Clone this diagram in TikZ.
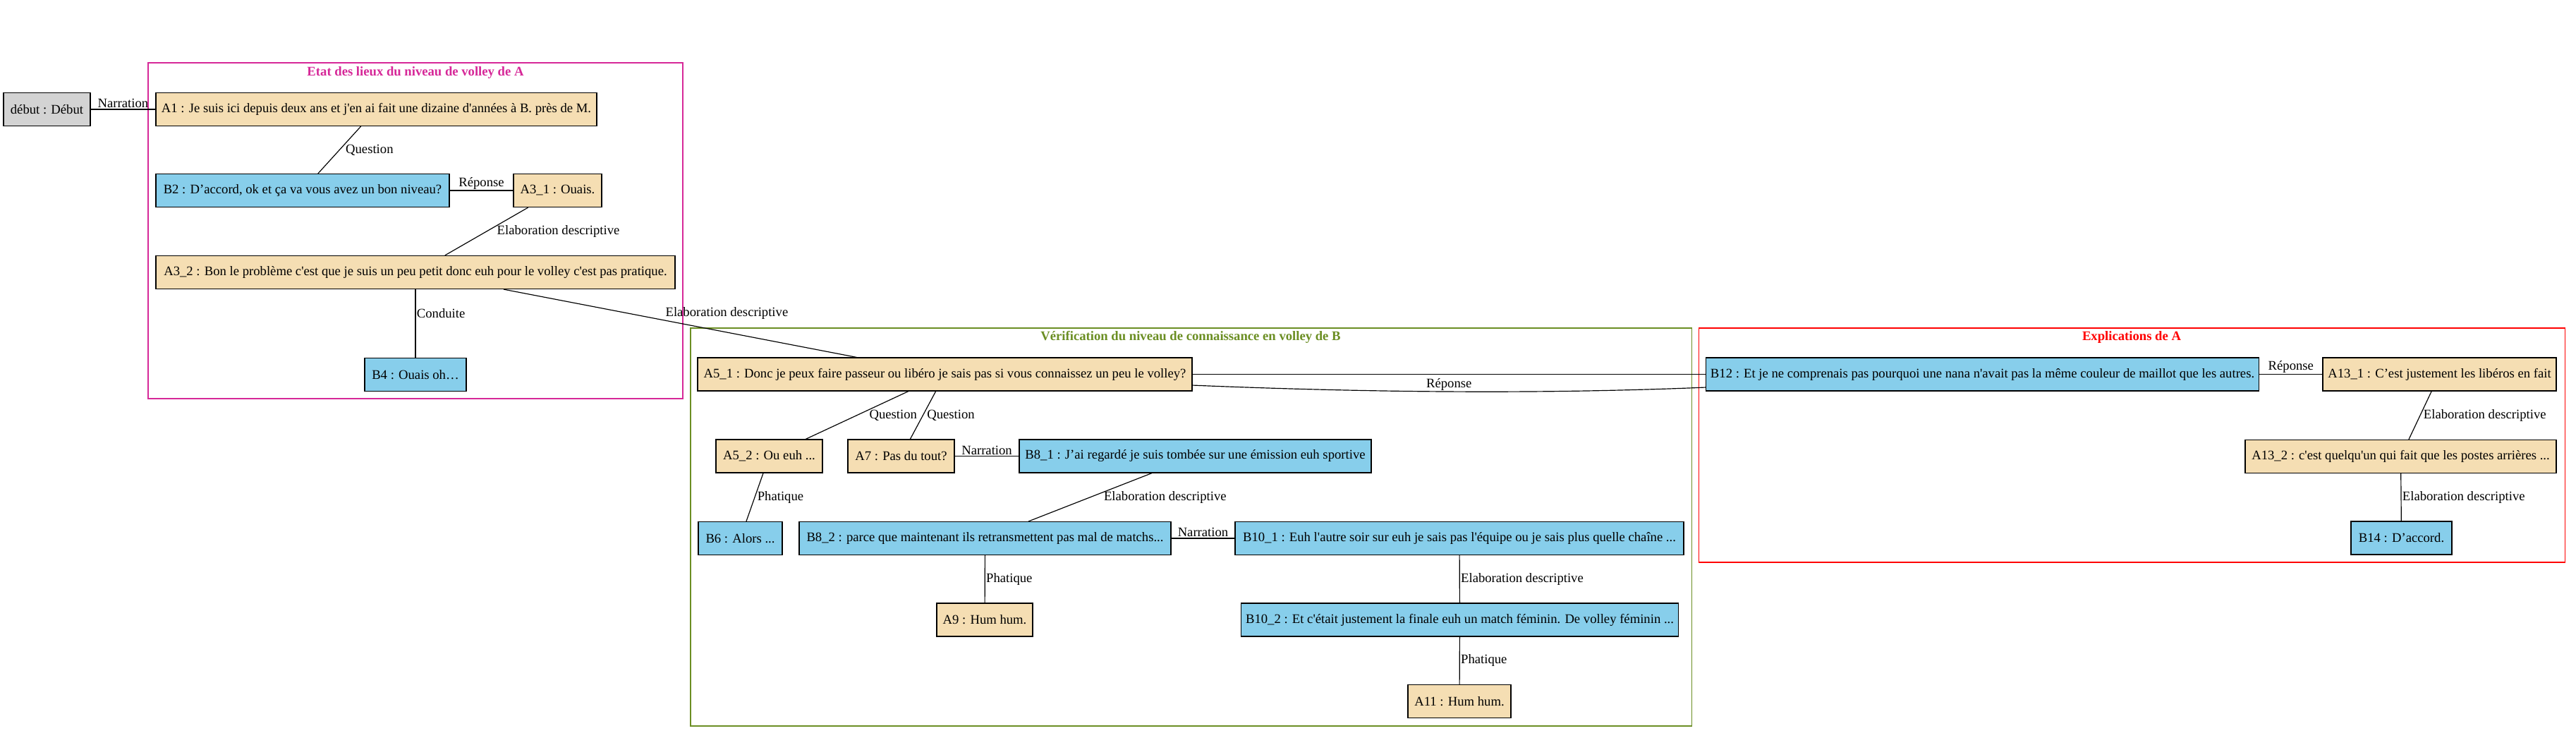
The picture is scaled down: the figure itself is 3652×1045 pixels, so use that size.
\documentclass[tikz,border=0pt]{standalone}
\usepackage{fontspec}
\setmainfont{Liberation Serif}[Ligatures=TeXOff]
\usetikzlibrary{calc}

\definecolor{wheatA}{HTML}{F5DEB3}
\definecolor{skyB}{HTML}{87CEEB}
\definecolor{greyStart}{HTML}{D3D3D3}
\definecolor{pinkZone}{RGB}{214,40,152}
\definecolor{greenZone}{HTML}{6B8E23}
\definecolor{redZone}{HTML}{FF0000}

\tikzset{
  turnA/.style={draw, fill=wheatA, line width=0.9pt, minimum height=36pt, inner xsep=5pt,
    font=\fontsize{14.3}{16}\selectfont},
  turnB/.style={turnA, fill=skyB},
  turnStart/.style={turnA, fill=greyStart},
  relation/.style={font=\fontsize{14.3}{16}\selectfont, inner sep=1pt},
  link/.style={line width=0.9pt},
  zone/.style={line width=0.8pt},
  zoneTitle/.style={font=\bfseries\fontsize{14.3}{16}\selectfont}
}

\begin{document}
\begin{tikzpicture}[x=0.766pt, y=-0.766pt]
  \useasboundingbox (0,0) rectangle (3652,1045);

  % zones
  \draw[zone, draw=pinkZone] (210,89) rectangle (968,565);
  \node[zoneTitle, text=pinkZone] (titleA) at (589,103) {Etat des lieux du niveau de volley de A};
  \draw[zone, draw=greenZone] (979,465) rectangle (2398,1029);
  \node[zoneTitle, text=greenZone] (titleB) at (1688,478) {Vérification du niveau de connaissance en volley de B};
  \draw[zone, draw=redZone] (2408,465) rectangle (3636,797);
  \node[zoneTitle, text=redZone] (titleC) at (3022,478) {Explications de A};

  % turns
  \node[turnStart, minimum width=94.2pt] (debut) at (66.5,155) {début : Début};
  \node[turnA, minimum width=478.8pt] (A1) at (533.5,155) {A1 : Je suis ici depuis deux ans et j'en ai fait une dizaine d'années à B. près de M.};
  \node[turnB, minimum width=318.7pt] (B2) at (429,270) {B2 : D’accord, ok et ça va vous avez un bon niveau?};
  \node[turnA, minimum width=95.8pt] (A3a) at (790.5,270) {A3\_1 : Ouais.};
  \node[turnA, minimum width=563.8pt] (A3b) at (589,386) {A3\_2 : Bon le problème c'est que je suis un peu petit donc euh pour le volley c'est pas pratique.};
  \node[turnB, minimum width=110.3pt] (B4) at (589,531) {B4 : Ouais oh…};

  \node[turnA, minimum width=537pt] (A5a) at (1339.5,530.5) {A5\_1 : Donc je peux faire passeur ou libéro je sais pas si vous connaissez un peu le volley?};
  \node[turnA, minimum width=115.7pt] (A5b) at (1090.5,646.5) {A5\_2 : Ou euh ...};
  \node[turnA, minimum width=115.7pt] (A7) at (1277.5,646.5) {A7 : Pas du tout?};
  \node[turnB, minimum width=382.2pt] (B8a) at (1694.5,646.5) {B8\_1 : J’ai regardé je suis tombée sur une émission euh sportive};
  \node[turnB, minimum width=91.2pt] (B6) at (1049.5,763) {B6 : Alors ...};
  \node[turnB, minimum width=403.7pt] (B8b) at (1396.5,763) {B8\_2 : parce que maintenant ils retransmettent pas mal de matchs...};
  \node[turnB, minimum width=487.2pt] (B10a) at (2069,763) {B10\_1 : Euh l'autre soir sur euh je sais pas l'équipe ou je sais plus quelle chaîne ...};
  \node[turnA, minimum width=104.2pt] (A9) at (1396,878.5) {A9 : Hum hum.};
  \node[turnB, minimum width=466.5pt] (B10b) at (2069.5,878.5) {B10\_2 : Et c'était justement la finale euh un match féminin. De volley féminin ...};
  \node[turnA, minimum width=111.8pt] (A11) at (2069,994) {A11 : Hum hum.};

  \node[turnB, minimum width=599.8pt] (B12) at (2810.5,530.5) {B12 : Et je ne comprenais pas pourquoi une nana n'avait pas la même couleur de maillot que les autres.};
  \node[turnA, minimum width=253.5pt] (A13a) at (3458.5,530.5) {A13\_1 : C’est justement les libéros en fait};
  \node[turnA, minimum width=337.8pt] (A13b) at (3403.5,647) {A13\_2 : c'est quelqu'un qui fait que les postes arrières ...};
  \node[turnB, minimum width=109.5pt] (B14) at (3404.5,762.5) {B14 : D’accord.};

  % relations
  \draw[link] (debut) -- (A1) node[relation, midway, above] {Narration};
  \draw[link] (A1) -- (B2) node[relation, midway, anchor=west, xshift=5.4pt] {Question};
  \draw[link] (B2) -- (A3a) node[relation, midway, above] {Réponse};
  \draw[link] (A3a) -- (A3b) node[relation, midway, anchor=west, xshift=10pt] {Elaboration descriptive};
  \draw[link] (A3b) -- (B4) node[relation, pos=0.35, anchor=west] {Conduite};
  \draw[link] (A3b) -- (A5a) node[relation, pos=0.455, anchor=south west] {Elaboration descriptive};

  \draw[link] (A5a) -- (A5b) node[relation, midway, anchor=west, xshift=12pt] {Question};
  \draw[link] (A5a) -- (A7) node[relation, midway, anchor=west, xshift=3pt] {Question};
  \draw[link] (A5b) -- (B6) node[relation, midway, anchor=west, xshift=1.5pt] {Phatique};
  \draw[link] (A7) -- (B8a) node[relation, midway, above] {Narration};
  \draw[link] (B8a) -- (B8b) node[relation, midway, anchor=west, xshift=13.5pt] {Elaboration descriptive};
  \draw[link] (B8b) -- (B10a) node[relation, midway, above] {Narration};
  \draw[link] (B8b) -- (A9) node[relation, midway, anchor=west] {Phatique};
  \draw[link] (B10a) -- (B10b) node[relation, midway, anchor=west] {Elaboration descriptive};
  \draw[link] (B10b) -- (A11) node[relation, midway, anchor=west] {Phatique};

  \draw[link] (A5a) -- (B12);
  \draw[link] ([yshift=-11.9pt]A5a.east) .. controls +(240,10) and +(-240,10) .. ([yshift=-14.2pt]B12.west)
    node[relation, midway, above] {Réponse};
  \draw[link] (B12) -- (A13a) node[relation, midway, above] {Réponse};
  \draw[link] (A13a) -- (A13b) node[relation, midway, anchor=west, xshift=2.3pt] {Elaboration descriptive};
  \draw[link] (A13b) -- (B14) node[relation, midway, anchor=west] {Elaboration descriptive};

\end{tikzpicture}
\end{document}
